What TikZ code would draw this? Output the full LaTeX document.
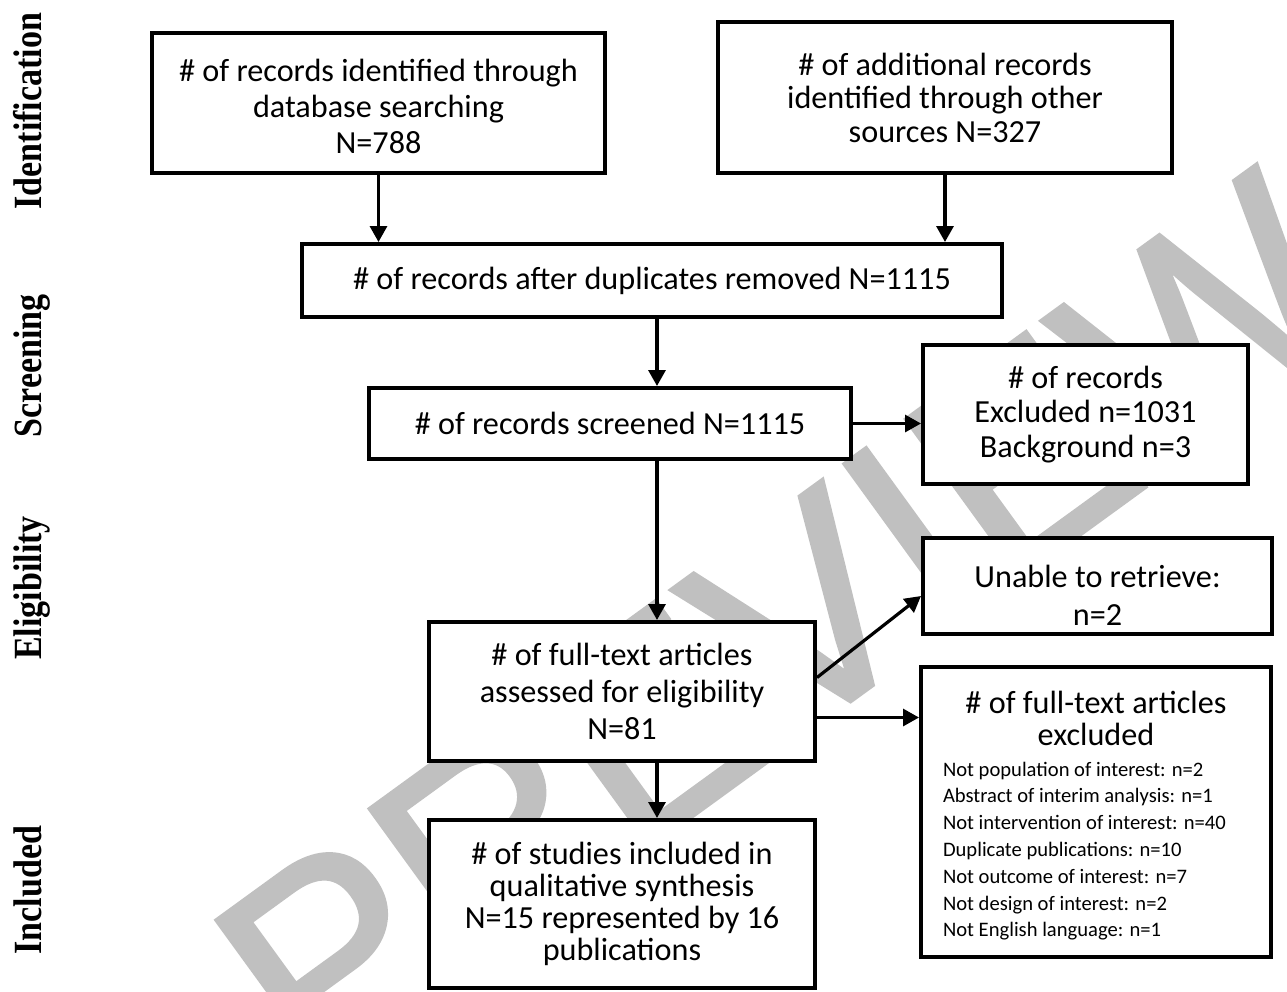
\documentclass[tikz,border=0pt]{standalone}
\usepackage{fontspec}
\setmainfont{Carlito}
\newfontfamily\labelfont{Liberation Serif}[FakeStretch=0.85]
\newfontfamily\wmfont{Liberation Sans}[FakeBold=1.5]
\usetikzlibrary{arrows.meta}
\definecolor{wmgray}{RGB}{192,192,192}

\tikzset{
  box/.style={draw, line width=2pt, fill=white, align=center, inner sep=0pt,
    font=\fontsize{16.1pt}{16.5pt}\selectfont},
  arr/.style={line width=1.6pt, -{Triangle[length=8pt,width=8.5pt]}},
  phase/.style={rotate=90, anchor=base,
    font=\labelfont\bfseries\fontsize{20pt}{20pt}\selectfont},
}

\begin{document}
\begin{tikzpicture}[x=0.5pt, y=-0.5pt]
        \fill[white] (0,0) rectangle (1287,992);
        \useasboundingbox (0,0) rectangle (1287,992);

        % Watermark
        \node[text=wmgray, rotate=36, inner sep=0pt,
              font=\wmfont\fontsize{142pt}{142pt}\selectfont] (wm) at (785,628) {PREVIEW};

        % Phase labels
        \node[phase] (lid) at (41,111) {Identification};
        \node[phase] (lsc) at (41,366) {Screening};
        \node[phase] (lel) at (41,588) {Eligibility};
        \node[phase] (lin) at (41,890) {Included};

        % Identification
        \node[box, minimum width=226.5pt, minimum height=70pt,
              font=\fontsize{16.1pt}{18pt}\selectfont] (db) at (378.5,103)
              {\rule{0pt}{15pt}\# of records identified through\\database searching\\N=788};
        \node[box, minimum width=227pt, minimum height=75.5pt,
              font=\fontsize{16.1pt}{16.75pt}\selectfont] (other) at (945,97.5)
              {\# of additional records\\identified through other\\sources N=327};

        % Screening
        \node[box, minimum width=350pt, minimum height=36.5pt] (dup) at (652,280.5)
              {\# of records after duplicates removed N=1115};
        \node[box, minimum width=241pt, minimum height=35.5pt] (scr) at (610,423.5)
              {\# of records screened N=1115};
        \node[box, minimum width=162.5pt, minimum height=69.5pt,
              font=\fontsize{16.1pt}{17.25pt}\selectfont] (exc) at (1085.5,414.5)
              {\# of records\\Excluded n=1031\\Background n=3};

        % Eligibility
        \node[box, minimum width=193pt, minimum height=69.5pt,
              font=\fontsize{16.1pt}{18.5pt}\selectfont] (full) at (622,691.5)
              {\# of full-text articles\\assessed for eligibility\\N=81};
        \node[box, minimum width=174.5pt, minimum height=48pt,
              font=\fontsize{16.1pt}{19pt}\selectfont] (ret) at (1097.5,586)
              {\rule{0pt}{20pt}Unable to retrieve:\\n=2};
        \node[box, minimum width=175pt, minimum height=145pt,
              font=\fontsize{16.1pt}{16pt}\selectfont] (fexc) at (1096,812)
              {\rule{0pt}{17pt}\# of full-text articles\\excluded\\[5pt]
               \makebox[153pt][l]{\fontsize{10.3pt}{13.4pt}\selectfont
               \begin{tabular}{@{}l@{}}
               Not population of interest: n=2\\
               Abstract of interim analysis: n=1\\
               Not intervention of interest: n=40\\
               Duplicate publications: n=10\\
               Not outcome of interest: n=7\\
               Not design of interest: n=2\\
               Not English language: n=1
               \end{tabular}}};

        % Included
        \node[box, minimum width=193pt, minimum height=84pt,
              font=\fontsize{16.1pt}{16pt}\selectfont] (inc) at (622,904)
              {\# of studies included in\\qualitative synthesis\\N=15 represented by 16\\publications};

        % Arrows
        \coordinate (spine) at (657,0);
        \draw[arr] (db.south) -- (db.south |- dup.north);
        \draw[arr] (other.south) -- (other.south |- dup.north);
        \draw[arr] (dup.south -| spine) -- (scr.north -| spine);
        \draw[arr] (scr.south -| spine) -- (full.north -| spine);
        \draw[arr] (full.south -| spine) -- (inc.north -| spine);
        \draw[arr] (scr.east) -- (scr.east -| exc.west);
        \draw[arr] ([yshift=7pt]full.east) -- ([yshift=-5pt]ret.west);
        \draw[arr] ([yshift=-13pt]full.east) -- ([yshift=-13pt]full.east -| fexc.west);
\end{tikzpicture}
\end{document}
